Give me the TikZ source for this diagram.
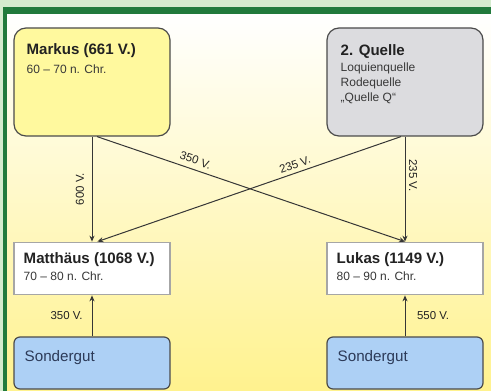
\documentclass[tikz,border=0pt]{standalone}
\usepackage{fontspec}
\setmainfont{Liberation Sans}
\usetikzlibrary{arrows.meta,positioning}

\definecolor{frameLight}{HTML}{D5EBCE}
\definecolor{frameDark}{HTML}{217A3C}
\definecolor{bgMid}{HTML}{FEFBD6}
\definecolor{bgBot}{HTML}{FFF28E}
\definecolor{markusFill}{HTML}{FFF99E}
\definecolor{quelleFill}{HTML}{DCDCDF}
\definecolor{sondFill}{HTML}{ADD0F5}
\definecolor{boxLine}{HTML}{4B4B4B}
\definecolor{lineGray}{HTML}{363636}
\definecolor{txtDark}{HTML}{222222}
\definecolor{sondTxt}{HTML}{2C3A58}

\begin{document}
\begin{tikzpicture}[x=0.75pt, y=-0.75pt,
  arr/.style={-{Stealth[length=4.5pt, width=3.8pt]}, line width=0.75pt, draw=lineGray},
  box/.style={rectangle, draw=boxLine, line width=0.9pt, minimum width=117pt, inner sep=0pt},
  gospel/.style={box, draw=gray!70, line width=0.8pt, fill=white, minimum height=39.5pt},
  sondbox/.style={box, rounded corners=4.5pt, fill=sondFill, minimum height=39pt},
  title/.style={font=\fontsize{11.3}{13}\selectfont\bfseries, text=txtDark, anchor=base west, inner sep=0pt},
  subtxt/.style={font=\fontsize{9}{11}\selectfont, text=txtDark!90, anchor=base west, inner sep=0pt},
  sondtxt/.style={font=\fontsize{11.4}{13}\selectfont, text=sondTxt, anchor=base west, inner sep=0pt},
  lbl/.style={font=\fontsize{8.6}{10}\selectfont, text=txtDark, inner sep=1pt},
]
\useasboundingbox (0,0) rectangle (491,391);

% Frame and background
\fill[frameLight] (0,0) rectangle (491,391);
\fill[frameDark] (3,7) rectangle (491,391);
\shade[top color=white, middle color=bgMid, bottom color=bgBot] (7,15) rectangle (491,391);

% Sources
\node[box, rounded corners=9pt, fill=markusFill, minimum height=81pt] (markus) at (92,82) {};
\node[box, rounded corners=9pt, fill=quelleFill, minimum height=81pt] (quelle) at (405,82) {};
\node[title] (markusT) at ([shift={(13,27)}]markus.north west) {Markus (661 V.)};
\node[subtxt] (markusD) at ([shift={(13,46)}]markus.north west) {60 – 70 n. Chr.};
\node[title] (quelleT) at ([shift={(14,28)}]quelle.north west) {2. Quelle};
\node[subtxt] (quelleA) at ([shift={(14,44)}]quelle.north west) {Loquienquelle};
\node[subtxt] (quelleB) at ([shift={(14,59)}]quelle.north west) {Rodequelle};
\node[subtxt] (quelleC) at ([shift={(14,74)}]quelle.north west) {„Quelle Q“};

% Gospels
\node[gospel] (matth) at (92,268.5) {};
\node[gospel] (lukas) at (405,268.5) {};
\node[title] (matthT) at ([shift={(10,22)}]matth.north west) {Matthäus (1068 V.)};
\node[subtxt] (matthD) at ([shift={(10,39)}]matth.north west) {70 – 80 n. Chr.};
\node[title] (lukasT) at ([shift={(10,22)}]lukas.north west) {Lukas (1149 V.)};
\node[subtxt] (lukasD) at ([shift={(10,39)}]lukas.north west) {80 – 90 n. Chr.};

% Sondergut
\node[sondbox] (sondL) at (92,363) {};
\node[sondbox] (sondR) at (405,363) {};
\node[sondtxt] (sondLT) at ([shift={(11,25)}]sondL.north west) {Sondergut};
\node[sondtxt] (sondRT) at ([shift={(11,25)}]sondR.north west) {Sondergut};

% Arrows
\draw[arr] (markus.south) -- node[lbl, rotate=90, anchor=south, outer sep=5pt] (l600) {600 V.} (matth.north);
\draw[arr] ([xshift=3.75pt]markus.south) -- node[lbl, sloped, above, pos=0.31, outer sep=3pt] (l350a) {350 V.} (lukas.north);
\draw[arr] (quelle.south) -- node[lbl, rotate=-90, anchor=south, pos=0.37, outer sep=2pt] (l235a) {235 V.} (lukas.north);
\draw[arr] ([xshift=-3pt]quelle.south) -- node[lbl, sloped, above, pos=0.34, outer sep=2.2pt] (l235b) {235 V.} ([xshift=4pt]matth.north);
\draw[arr] (sondL.north) -- node[lbl, left, outer sep=6pt] (l350b) {350 V.} (matth.south);
\draw[arr] (sondR.north) -- node[lbl, right, outer sep=8pt] (l550) {550 V.} (lukas.south);
\end{tikzpicture}
\end{document}
